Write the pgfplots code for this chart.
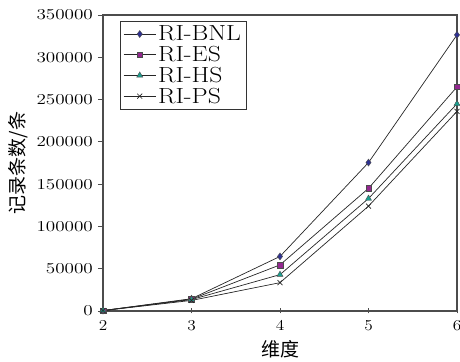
\documentclass[border=0pt]{standalone}
\usepackage{fontspec}
\usepackage{graphicx}
\usepackage{pgfplots}
\pgfplotsset{compat=1.18}
\newfontfamily\cjk{Noto Sans CJK SC}
\definecolor{cBNL}{HTML}{2E3192}
\definecolor{cES}{HTML}{93278F}
\definecolor{cHS}{HTML}{1B9E8E}
\newcommand{\legtxt}[1]{\scalebox{1.35}[1.15]{#1}}
\begin{document}
\begin{tikzpicture}[x=1pt,y=1pt]
\begin{axis}[
  scale only axis,
  width=354pt, height=296pt,
  xmin=2, xmax=6, ymin=0, ymax=350000,
  xtick={2,3,4,5,6},
  ytick={0,50000,100000,150000,200000,250000,300000,350000},
  scaled y ticks=false,
  yticklabel={\scalebox{1.33}[1.05]{\pgfmathprintnumber[fixed,1000 sep={}]{\tick}}},
  xticklabel={\scalebox{1.2}[1.05]{\pgfmathprintnumber{\tick}}},
  yticklabel style={font=\fontsize{14.5}{14.5}\selectfont, anchor=east, inner sep=0pt, xshift=-5pt},
  xticklabel style={font=\fontsize{15.5}{15.5}\selectfont, anchor=north, inner sep=0pt, yshift=-7pt},
  axis line style={draw=black!70, line width=1.2pt},
  tick style={black!70, line width=0.8pt},
  major tick length=5pt,
  xtick align=center,
  ytick align=outside,
  xtick pos=bottom, ytick pos=left,
  xlabel={\cjk 维度},
  ylabel={\cjk 记录条数/条},
  xlabel style={font=\fontsize{19}{19}\selectfont, at={(axis description cs:0.5,-0.128)}, anchor=center},
  ylabel style={font=\fontsize{19}{19}\selectfont, at={(axis description cs:-0.24,0.5)}, anchor=center, rotate=0},
  legend style={at={(0.048,0.98)}, anchor=north west, draw=black!80, line width=0.8pt,
    font=\fontsize{19}{19}\selectfont, row sep=0pt, inner sep=2.5pt, inner xsep=3pt},
  legend cell align=left,
  legend image code/.code={%
    \draw[mark repeat=2,mark phase=2,#1] plot coordinates {(0pt,0pt) (16pt,0pt) (32pt,0pt)};},
  every axis plot/.append style={line width=0.7pt, black!85},
]
\addplot[mark=diamond*, mark size=3.5pt, mark options={fill=cBNL, draw=black!70, line width=0.4pt}]
  coordinates {(2,500) (3,14500) (4,64500) (5,175500) (6,326500)};
\addlegendentry{\legtxt{RI-BNL}}
\addplot[mark=square*, mark size=2.8pt, mark options={fill=cES, draw=black!70, line width=0.4pt}]
  coordinates {(2,500) (3,14000) (4,54500) (5,145000) (6,265000)};
\addlegendentry{\legtxt{RI-ES}}
\addplot[mark=triangle*, mark size=3.5pt, mark options={fill=cHS, draw=black!70, line width=0.4pt}]
  coordinates {(2,500) (3,13500) (4,43000) (5,133000) (6,245000)};
\addlegendentry{\legtxt{RI-HS}}
\addplot[mark=x, mark size=3.5pt, mark options={draw=black!85, line width=0.6pt}]
  coordinates {(2,500) (3,12500) (4,33500) (5,124000) (6,236000)};
\addlegendentry{\legtxt{RI-PS}}
\end{axis}
\pgfresetboundingbox
\path[use as bounding box] ([xshift=-103pt,yshift=-51pt]current axis.south west) rectangle ([xshift=3pt,yshift=15pt]current axis.north east);
\end{tikzpicture}
\end{document}
